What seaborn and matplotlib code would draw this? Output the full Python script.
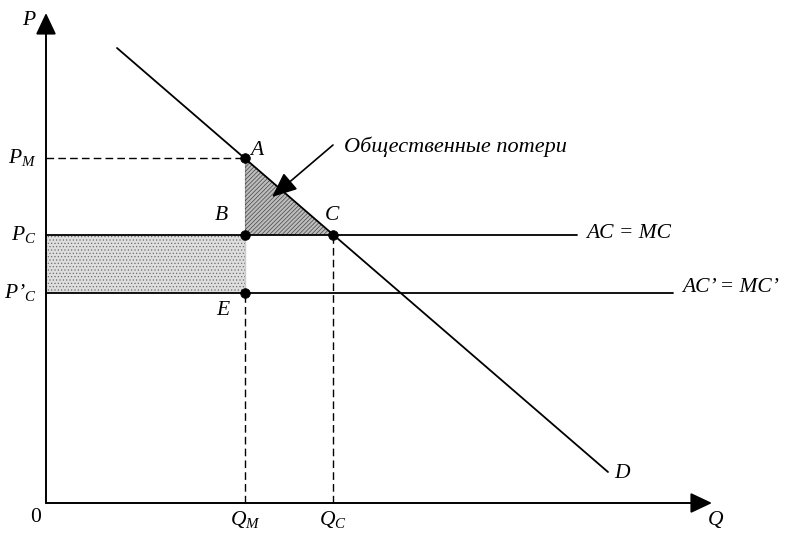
import matplotlib
matplotlib.use('Agg')
import matplotlib.pyplot as plt
import seaborn as sns
import pandas as pd

# Рынок: монополия vs конкуренция (координаты в условных единицах)
demand_q = [71, 562]
demand_p = [455, 31]

q_m, q_c = 199, 287
p_m, p_c, p_c2 = 345, 268, 210
ac_end, ac2_end = 531, 627
q_axis_end, p_axis_end = 666, 490

point_names = ['A', 'B', 'C', 'E']
point_q = [q_m, q_m, q_c, q_m]
point_p = [p_m, p_c, p_c, p_c2]

loss_label = 'Общественные потери'

sns.set_style('white')
plt.rcParams['font.family'] = ['Liberation Serif', 'DejaVu Serif']
plt.rcParams['text.color'] = 'black'
plt.rcParams['mathtext.fontset'] = 'custom'
plt.rcParams['mathtext.it'] = 'Liberation Serif:italic'
plt.rcParams['mathtext.rm'] = 'Liberation Serif'
plt.rcParams['hatch.linewidth'] = 0.5

fig = plt.figure(figsize=(7.87, 5.34), dpi=100)
ax = fig.add_axes([0, 0, 1, 1])
ax.set_xlim(-46, 741)
ax.set_ylim(-31, 503)
ax.axis('off')

# заштрихованные области
ax.fill_between([0, q_m], p_c2, p_c, facecolor='#dedede', edgecolor='#6e6e6e',
                hatch='.....', linewidth=0)
ax.fill([q_m, q_m, q_c], [p_m, p_c, p_c], facecolor='#bdbdbd', edgecolor='#444444',
        hatch='////////', linewidth=0)

# оси
arrow = dict(arrowstyle='-|>,head_length=0.55,head_width=0.26', color='black',
             lw=1.4, mutation_scale=24, shrinkA=0, shrinkB=0)
ax.annotate('', xy=(q_axis_end, 0), xytext=(0, 0), arrowprops=arrow)
ax.annotate('', xy=(0, p_axis_end), xytext=(0, 0), arrowprops=arrow)

# кривая спроса и линии издержек
df = pd.DataFrame({'Q': demand_q, 'P': demand_p})
sns.lineplot(data=df, x='Q', y='P', ax=ax, color='black', lw=1.3)
sns.lineplot(x=[0, ac_end], y=[p_c, p_c], ax=ax, color='black', lw=1.3)
sns.lineplot(x=[0, ac2_end], y=[p_c2, p_c2], ax=ax, color='black', lw=1.3)
sns.lineplot(x=[q_m, q_m], y=[p_c2, p_m], ax=ax, color='black', lw=1.3)

dash = dict(color='black', lw=1.0, ls=(0, (5.5, 3)))
ax.plot([0, q_m], [p_m, p_m], **dash)
ax.plot([q_m, q_m], [0, p_c2], **dash)
ax.plot([q_c, q_c], [0, p_c], **dash)

sns.scatterplot(x=point_q, y=point_p, ax=ax, color='black', s=48, zorder=5,
                edgecolor='black')

# подписи
fs = 15.5
it = dict(fontsize=fs, style='italic')
ax.text(-11, 478, 'P', ha='right', va='baseline', **it)
ax.text(-9, 340, 'P${}_M$', ha='right', va='baseline', **it)
ax.text(-9, 263, 'P${}_C$', ha='right', va='baseline', **it)
ax.text(-9, 205, 'P’${}_C$', ha='right', va='baseline', **it)
ax.text(-10, -19, '0', ha='center', va='baseline', fontsize=fs)
ax.text(q_m, -22, 'Q${}_M$', ha='center', va='baseline', **it)
ax.text(q_c, -22, 'Q${}_C$', ha='center', va='baseline', **it)
ax.text(662, -22, 'Q', ha='left', va='baseline', **it)
ax.text(568, 25, 'D', ha='left', va='baseline', **it)

label_pos = {'A': (204, 348, 'left'), 'B': (182, 283, 'right'),
             'C': (279, 283, 'left'), 'E': (183, 188, 'right')}
for name in point_names:
    x, y, ha = label_pos[name]
    ax.text(x, y, name, ha=ha, va='baseline', **it)

ax.text(540, 265, 'AC = MC', ha='left', va='baseline', **it)
ax.text(636, 211, 'AC’ = MC’', ha='left', va='baseline', **it)

ax.annotate('', xy=(226, 306), xytext=(287, 358),
            arrowprops=dict(arrowstyle='-|>,head_length=0.7,head_width=0.3',
                            color='black', lw=1.2, mutation_scale=22,
                            shrinkA=0, shrinkB=0))
ax.text(298, 351, loss_label, ha='left', va='baseline', fontsize=16, style='italic')

fig.savefig('out.png', dpi=100)
